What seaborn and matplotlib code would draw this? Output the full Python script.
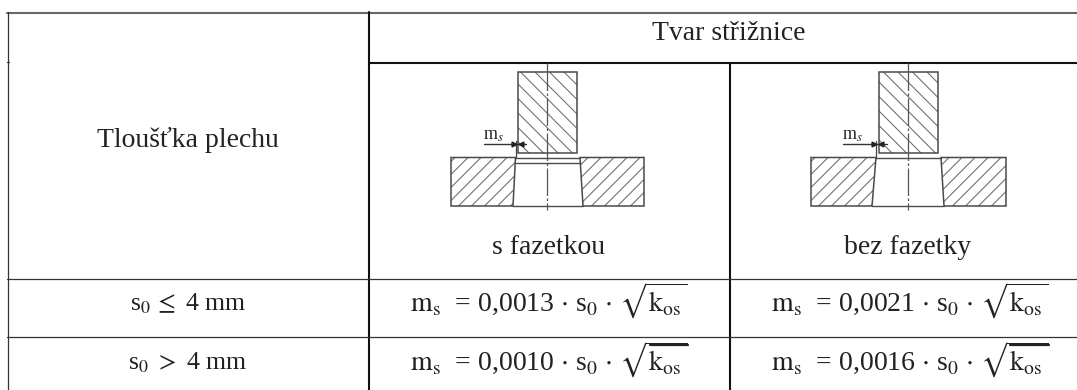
import numpy as np
import pandas as pd
import matplotlib
matplotlib.use("Agg")
import matplotlib.pyplot as plt
from matplotlib.patches import Polygon
import seaborn as sns

sns.set_theme(style="white")
plt.rcParams['font.family'] = ['Liberation Serif', 'DejaVu Serif']
plt.rcParams['mathtext.fontset'] = 'stix'

# Table grid rules: (name, x0, y0, x1, y1) in image pixels
grid_top = [("top", 7, 12.5, 1077, 12.5)]
grid_heavy = [("v1", 368.5, 12, 368.5, 390), ("v2", 730, 63, 730, 390),
              ("h1", 369, 62.5, 1077, 62.5)]
grid_thin = [("left", 7.5, 12, 7.5, 390), ("h2", 7, 278.5, 1077, 278.5),
             ("h3", 7, 337, 1077, 337), ("tick", 7, 62, 9, 62)]

# Text
header_top = "Tvar střižnice"
row_header = "Tloušťka plechu"
col_labels = ["s fazetkou", "bez fazetky"]
row_labels = [r"s$_0$$\,\leq$ 4 mm", r"s$_0$ $>$ 4 mm"]
formula_coeffs = [["0,0013", "0,0021"], ["0,0010", "0,0016"]]

# Diagram geometry, per drawing
punch_x = [(518, 577), (879, 938)]
punch_y = (72, 153)
die_x = [(451, 644), (811, 1006)]
die_y = (157.5, 206)
hole_top = [(515.5, 580), (876, 941)]
hole_bot = [(513, 583), (872, 944)]
center_x = [547, 908]
center_y = (63, 210)
dim_x0 = [484, 843]
dim_x1 = [526, 887]
dim_y = 144
dim_tick = [516, 876]
ms_x = [493, 852]
facet_y = 162.5
overbar_x = [(650, 688), (1010, 1049)]
overbar_y = 344.5

fig = plt.figure(figsize=(10.77, 3.90), dpi=100)
ax = fig.add_axes([0, 0, 1, 1])


def segs(rows, color, lw):
    df = pd.DataFrame(
        [(n, x0, y0, 0) for n, x0, y0, x1, y1 in rows] +
        [(n, x1, y1, 1) for n, x0, y0, x1, y1 in rows],
        columns=["seg", "x", "y", "o"]).sort_values(["seg", "o"])
    sns.lineplot(data=df, x="x", y="y", units="seg", estimator=None, sort=False,
                 color=color, linewidth=lw, ax=ax, legend=False, errorbar=None)


segs(grid_top, "#666666", 1.5)
segs(grid_heavy, "#111111", 1.5)
segs(grid_thin, "#333333", 0.9)
ax.set_xlim(0, 1077)
ax.set_ylim(390, 0)
ax.axis("off")

LC = "#4a4a4a"


def hatch(poly, sign, step, phase):
    patch = Polygon(poly, closed=True, fill=False, ec=LC, lw=1.1, zorder=3)
    ax.add_patch(patch)
    xs = [p[0] for p in poly]
    ys = [p[1] for p in poly]
    span = max(ys) - min(ys) + 100
    for c in np.arange(min(xs) - span + phase, max(xs) + span, step):
        if sign > 0:
            line_y = [min(ys) - 50, min(ys) - 50 + 2 * span]
        else:
            line_y = [max(ys) + 50, max(ys) + 50 - 2 * span]
        ln, = ax.plot([c, c + 2 * span], line_y, color="#6a6a6a", lw=0.75, zorder=2)
        ln.set_clip_path(patch)


for i in range(2):
    px0, px1 = punch_x[i]
    hatch([(px0, punch_y[0]), (px1, punch_y[0]), (px1, punch_y[1]), (px0, punch_y[1])], 1, 14.5, 3 + i * 2)
    dx0, dx1 = die_x[i]
    tl, tr = hole_top[i]
    bl, br = hole_bot[i]
    hatch([(dx0, die_y[0]), (tl, die_y[0]), (bl, die_y[1]), (dx0, die_y[1])], -1, 13, 2)
    hatch([(tr, die_y[0]), (dx1, die_y[0]), (dx1, die_y[1]), (br, die_y[1])], -1, 13, 6)
    ax.plot([tl, tr], [die_y[0], die_y[0]], color=LC, lw=1.0)
    ax.plot([bl, br], [die_y[1], die_y[1]], color=LC, lw=1.0)
    if i == 0:
        ax.plot([tl, tr], [facet_y, facet_y], color=LC, lw=1.0)
    ax.plot([center_x[i]] * 2, center_y, color="#555555", lw=0.9,
            dashes=(22, 2, 2, 2), zorder=4)
    ax.plot([dim_x0[i], dim_x1[i]], [dim_y, dim_y], color="#333333", lw=1.0, zorder=4)
    ax.plot([dim_tick[i]] * 2, [dim_y - 3, die_y[0]], color="#444444", lw=0.9, zorder=4)
    ax.plot([dim_tick[i] - 2.5], [dim_y], marker=">", ms=3.5, color="#222222", zorder=5)
    ax.plot([dim_tick[i] + 4.5], [dim_y], marker="<", ms=3.5, color="#222222", zorder=5)
    ax.text(ms_x[i], dim_y - 8, r"m$_s$", ha="center", va="center", fontsize=13, color="#222222")
    ax.plot(overbar_x[i], [overbar_y, overbar_y], color="#222222", lw=1.6, zorder=5)

TC = "#222222"
ax.text(729, 33, header_top, ha="center", va="center", fontsize=20, color=TC)
ax.text(188, 140, row_header, ha="center", va="center", fontsize=20, color=TC)
ax.text(549, 247, col_labels[0], ha="center", va="center", fontsize=20, color=TC)
ax.text(908, 247, col_labels[1], ha="center", va="center", fontsize=20, color=TC)
label_y = [304, 363]
formula_y = [301, 360]
for r in range(2):
    ax.text(188, label_y[r], row_labels[r], ha="center", va="center", fontsize=18.5, color=TC)
    for c, cx in enumerate([549, 910]):
        s = (r"$\mathrm{m_s}$  = " + formula_coeffs[r][c] +
             r" $\cdot$ s$_0$ $\cdot$ $\sqrt{\mathrm{k_{os}}}$")
        ax.text(cx, formula_y[r], s, ha="center", va="center", fontsize=20, color=TC)

fig.savefig("out.png", dpi=100, facecolor="white")
